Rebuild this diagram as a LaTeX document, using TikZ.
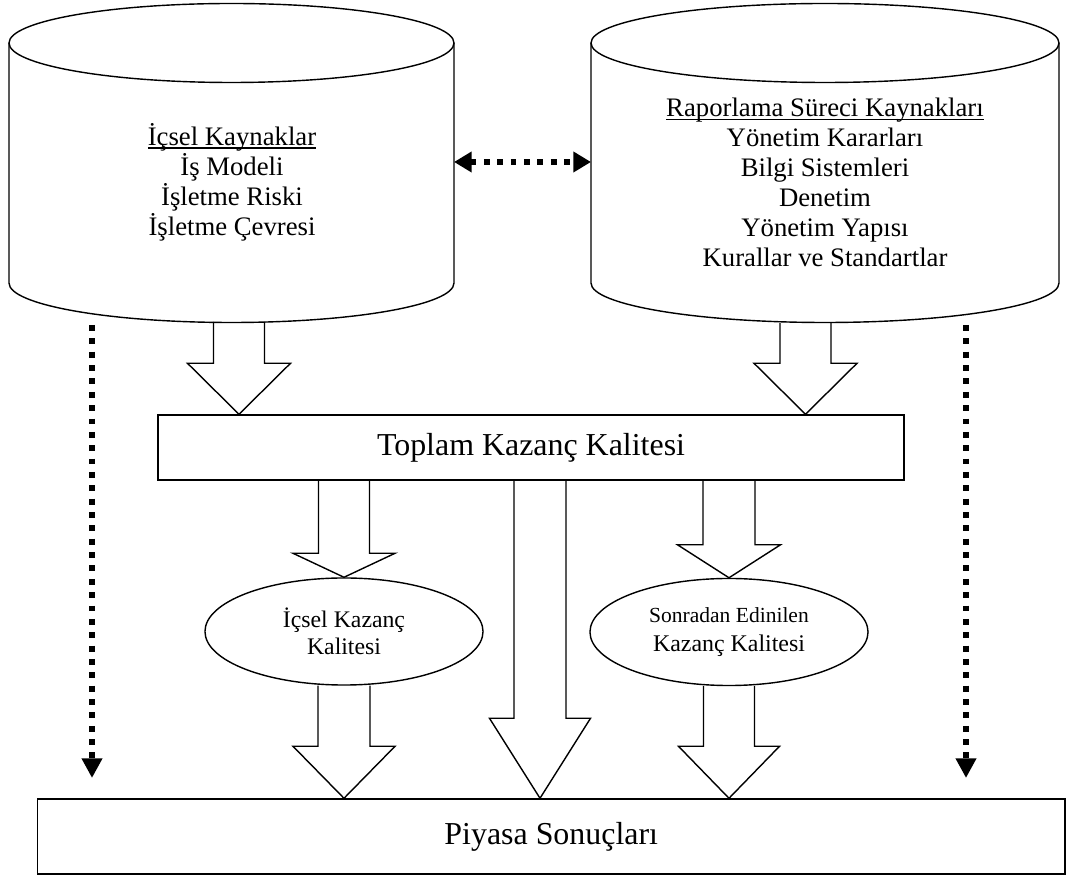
\documentclass[tikz,border=0pt]{standalone}
\usepackage{fontspec}
\setmainfont{Liberation Serif}
\usetikzlibrary{calc,shapes.geometric,arrows.meta}

% block arrow: start, tip, half shaft, half head, head length
\newcommand{\bigarrow}[5]{%
  \draw [shapeline] ($(#1)+(-#3,0)$) -- ($(#2)+(-#3,#5)$) -- ($(#2)+(-#4,#5)$) -- (#2)
    -- ($(#2)+(#4,#5)$) -- ($(#2)+(#3,#5)$) -- ($(#1)+(#3,0)$);%
}
% underline close to the baseline
\newcommand{\headline}[1]{\setbox0\hbox{#1}\rlap{\rule[-2.4pt]{\wd0}{0.9pt}}\box0}

\begin{document}
\begin{tikzpicture}[x=0.025cm, y=0.025cm,
    shapeline/.style={line width=1pt},
    dotarrow/.style={line width=4.2pt, dash pattern=on 4.2pt off 5.3pt},
    bigtext/.style={font=\fontsize{22.7pt}{26pt}\selectfont},
    cyltext/.style={align=center, font=\fontsize{19pt}{21.3pt}\selectfont},
    oval/.style={ellipse, draw, shapeline, minimum width=6.95cm, minimum height=2.675cm, inner sep=0pt, align=center}]
  \useasboundingbox (0,0) rectangle (1066,875);

  % Drawing cylinder Icsel Kaynaklar
  \draw [shapeline] (231.5,832) ellipse [x radius=222.5, y radius=39.5];%
  \draw [shapeline] (9,832) -- (9,592) arc [start angle=180, end angle=360, x radius=222.5, y radius=39.5] -- (454,832);%
  \node (icsel) [cyltext] at (232,693) {\headline{İçsel Kaynaklar}\\İş Modeli\\İşletme Riski\\İşletme Çevresi};%
  \coordinate (icsel-base) at (239,553);%
  \coordinate (icsel-side) at (454,713);%

  % Drawing cylinder Raporlama Sureci Kaynaklari
  \draw [shapeline] (825,832) ellipse [x radius=234, y radius=39.5];%
  \draw [shapeline] (591,832) -- (591,592) arc [start angle=180, end angle=360, x radius=234, y radius=39.5] -- (1059,832);%
  \node (rapor) [cyltext] at (825,692.5) {\headline{Raporlama Süreci Kaynakları}\\Yönetim Kararları\\Bilgi Sistemleri\\Denetim\\Yönetim Yapısı\\Kurallar ve Standartlar};%
  \coordinate (rapor-base) at (805.5,552);%
  \coordinate (rapor-side) at (591,713);%

  % Drawing boxes
  \node (toplam) [draw, shapeline, bigtext, minimum width=18.65cm, minimum height=1.625cm, inner sep=0pt] at (531,427.5) {Toplam Kazanç Kalitesi};%
  \node (piyasa) [draw, shapeline, bigtext, minimum width=25.69cm, minimum height=1.875cm, inner sep=0pt] at (551.25,38.5) {Piyasa Sonuçları};%

  % Drawing ellipses
  \node (icselkk) [oval, font=\fontsize{16.9pt}{19.2pt}\selectfont] at (344,243.5) {İçsel Kazanç\\Kalitesi};%
  \node (sonradan) [oval, font=\fontsize{17pt}{20.6pt}\selectfont] at (729,243) {{\fontsize{15.3pt}{20.6pt}\selectfont Sonradan Edinilen}\\Kazanç Kalitesi};%

  % Drawing block arrows
  \bigarrow{icsel-base}{icsel-base |- toplam.north}{25.5}{51.5}{51}
  \bigarrow{rapor-base}{rapor-base |- toplam.north}{25.5}{51.5}{51}
  \bigarrow{toplam.south -| icselkk.north}{icselkk.north}{25.5}{51}{24}
  \bigarrow{toplam.south -| sonradan.north}{sonradan.north}{26}{51.5}{33}
  \coordinate (mid-top) at ($(toplam.south)+(9,0)$);%
  \bigarrow{mid-top}{mid-top |- piyasa.north}{26}{50.5}{80}
  \bigarrow{icselkk.south}{icselkk.south |- piyasa.north}{26}{51}{52}
  \bigarrow{sonradan.south}{sonradan.south |- piyasa.north}{25.5}{50.5}{52}

  % Drawing dotted arrows
  \draw [dotarrow, {Triangle[length=12.5pt,width=14pt]}-{Triangle[length=12.5pt,width=14pt]}] (icsel-side) -- (rapor-side);%
  \coordinate (left-top) at (92,550);%
  \coordinate (left-end) at (92,97);%
  \coordinate (right-top) at (966,550);%
  \coordinate (right-end) at (966,97);%
  \draw [dotarrow, -{Triangle[length=14pt,width=14pt]}] (left-top) -- (left-end);%
  \draw [dotarrow, -{Triangle[length=14pt,width=14pt]}] (right-top) -- (right-end);%
\end{tikzpicture}
\end{document}
